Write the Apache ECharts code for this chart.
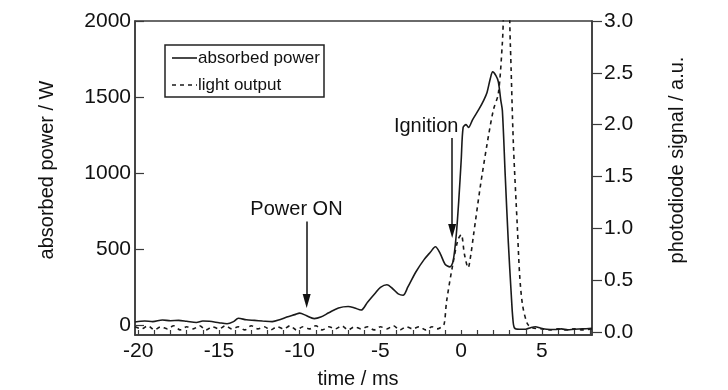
<!DOCTYPE html>
<html><head><meta charset="utf-8">
<script src="https://cdn.jsdelivr.net/npm/echarts@6/dist/echarts.min.js"></script>
<style>html,body{margin:0;padding:0;background:#fff}#c{width:728px;height:390px}</style>
</head><body><div id="c"></div>
<script>
const FONT = '"Liberation Sans",Arial,sans-serif';
// time (ms)
const xTicks = [-20, -15, -10, -5, 0, 5];
const xMinorTicks = [-20,-19,-18,-17,-16,-15,-14,-13,-12,-11,-10,-9,-8,-7,-6,-5,-4,-3,-2,-1,0,1,2,3,4,5,6,7,8];
const leftTicks = [0, 500, 1000, 1500, 2000];
const rightTicks = [0, 0.5, 1.0, 1.5, 2.0, 2.5, 3.0];

// absorbed power [time ms, W]
const powerT = [-20.2,-19.6,-19.1,-18.5,-18.0,-17.5,-17.0,-16.4,-16.0,-15.6,-15.0,-14.5,-14.1,-13.8,-13.3,-12.8,-12.3,-11.7,-11.2,-10.8,-10.3,-10.0,-9.6,-9.1,-8.7,-8.2,-7.6,-7.0,-6.6,-6.2,-5.8,-5.3,-5.0,-4.6,-4.2,-3.9,-3.6,-3.3,-2.8,-2.3,-1.9,-1.6,-1.3,-1.0,-0.7,-0.5,-0.3,-0.15,0.0,0.12,0.3,0.45,0.7,1.1,1.4,1.6,1.8,1.95,2.15,2.3,2.45,2.55,2.73,2.92,3.1,3.2,3.3,3.6,4.0,4.3,4.6,4.9,5.3,5.8,6.2,6.6,7.0,7.5,8.1];
const powerW = [20,26,22,33,28,30,24,16,26,24,15,8,22,44,34,30,26,22,36,52,68,78,62,42,52,80,112,122,112,98,150,212,248,265,235,205,196,250,350,430,480,515,470,400,382,420,600,820,1085,1300,1318,1300,1350,1420,1480,1530,1620,1665,1640,1600,1480,1410,975,540,200,40,-20,-28,-28,-18,-12,-20,-28,-30,-26,-32,-28,-26,-22];

// light output [time ms, a.u.]
const lightT = [-20.2,-19.8,-19.4,-19.0,-18.6,-18.2,-17.8,-17.4,-17.0,-16.6,-16.2,-15.8,-15.4,-15.0,-14.6,-14.2,-13.8,-13.4,-13.0,-12.6,-12.2,-11.8,-11.4,-11.0,-10.6,-10.2,-9.8,-9.4,-9.0,-8.6,-8.2,-7.8,-7.4,-7.0,-6.6,-6.2,-5.8,-5.4,-5.0,-4.6,-4.2,-3.8,-3.4,-3.0,-2.6,-2.2,-1.8,-1.5,-1.2,-1.05,-0.9,-0.5,-0.2,0.0,0.2,0.43,0.6,0.75,1.18,1.61,1.99,2.3,2.55,2.73,2.9,3.04,3.23,3.48,3.62,3.8,4.1,4.4,5.0,5.5,6.0,6.5,7.0,7.5,8.1];
const lightL = [0.05,0.03,0.06,0.02,0.05,0.03,0.06,0.02,0.05,0.03,0.06,0.02,0.05,0.03,0.06,0.03,0.05,0.02,0.06,0.03,0.05,0.02,0.05,0.03,0.06,0.02,0.05,0.03,0.06,0.02,0.05,0.03,0.06,0.02,0.05,0.03,0.05,0.02,0.05,0.03,0.06,0.02,0.05,0.03,0.05,0.02,0.05,0.03,0.05,0.08,0.3,0.67,0.89,0.94,0.75,0.62,0.75,0.92,1.40,1.82,2.14,2.30,2.79,3.3,3.3,2.79,1.82,1.0,0.55,0.26,0.08,0.04,0.03,0.02,0.03,0.02,0.03,0.02,0.03];

// annotations
const powerOnArrow = [[-9.57, 680], [-9.57, 158]];
const ignitionArrow = [[-0.56, 1230], [-0.56, 618]];
const powerOnLabel = [-10.2, 757];
const ignitionLabel = [-2.17, 1303];
const legendNames = ['absorbed power', 'light output'];

const zip = (a, b) => a.map((v, i) => [v, b[i]]);

const chart = echarts.init(document.getElementById('c'), null, {renderer: 'canvas'});
const axisCol = '#3a3a3a';
const lineCol = '#1a1a1a';
chart.setOption({
  animation: false,
  backgroundColor: '#fff',
  grid: {left: 135, right: 136, top: 21, bottom: 55, show: true, borderColor: axisCol, borderWidth: 1.5, backgroundColor: 'transparent'},
  xAxis: {
    type: 'value', min: -20.2, max: 8.1,
    axisLine: {onZero: false, lineStyle: {color: axisCol, width: 1.5}},
    axisTick: {inside: true, length: 5, customValues: xMinorTicks, lineStyle: {color: axisCol, width: 1.2}},
    axisLabel: {customValues: xTicks, margin: 6, color: '#111', fontFamily: FONT, fontSize: 21, formatter: v => String(v)},
    splitLine: {show: false}
  },
  yAxis: [{
    type: 'value', min: -66, max: 2000, position: 'left',
    axisLine: {show: true, onZero: false, lineStyle: {color: axisCol, width: 1.5}},
    axisTick: {show: true, inside: true, length: 9, customValues: leftTicks, lineStyle: {color: axisCol, width: 1.2}},
    axisLabel: {customValues: leftTicks, margin: 4, color: '#111', fontFamily: FONT, fontSize: 21, formatter: v => String(v)},
    splitLine: {show: false}
  }, {
    type: 'value', min: -0.029, max: 3.0, position: 'right',
    axisLine: {show: true, onZero: false, lineStyle: {color: axisCol, width: 1.5}},
    axisTick: {show: true, inside: false, length: 10, customValues: rightTicks, lineStyle: {color: axisCol, width: 1.2}},
    axisLabel: {customValues: rightTicks, margin: 12, color: '#111', fontFamily: FONT, fontSize: 21, formatter: v => v.toFixed(1)},
    splitLine: {show: false}
  }],
  series: [{
    name: legendNames[0], type: 'line', yAxisIndex: 0, data: zip(powerT, powerW),
    smooth: 0.3, symbol: 'none', clip: true,
    lineStyle: {color: lineCol, width: 1.6}, itemStyle: {color: lineCol},
    markLine: {
      silent: true, symbol: ['none', 'triangle'], symbolSize: [8, 14], animation: false,
      lineStyle: {color: '#111', width: 1.5, type: 'solid'}, label: {show: false},
      data: [
        [{coord: powerOnArrow[0]}, {coord: powerOnArrow[1]}],
        [{coord: ignitionArrow[0]}, {coord: ignitionArrow[1]}]
      ]
    },
    markPoint: {
      silent: true, symbol: 'circle', symbolSize: 1, itemStyle: {color: 'rgba(0,0,0,0)'},
      label: {show: true, position: 'inside', formatter: p => p.name, color: '#111', fontFamily: FONT, fontSize: 20},
      data: [{name: 'Power ON', coord: powerOnLabel}, {name: 'Ignition', coord: ignitionLabel}]
    }
  }, {
    name: legendNames[1], type: 'line', yAxisIndex: 1, data: zip(lightT, lightL),
    smooth: 0.3, symbol: 'none', clip: true,
    lineStyle: {color: lineCol, width: 1.6, type: [4, 4]}, itemStyle: {color: lineCol}
  }],
  graphic: [
    {type: 'text', x: 47, y: 170, rotation: Math.PI / 2, style: {text: 'absorbed power / W', fontFamily: FONT, fontSize: 20, fill: '#111', align: 'center', verticalAlign: 'middle'}},
    {type: 'text', x: 677, y: 160, rotation: Math.PI / 2, style: {text: 'photodiode signal / a.u.', fontFamily: FONT, fontSize: 20, fill: '#111', align: 'center', verticalAlign: 'middle'}},
    {type: 'text', x: 358, y: 379, style: {text: 'time / ms', fontFamily: FONT, fontSize: 20, fill: '#111', align: 'center', verticalAlign: 'middle'}},
    {type: 'rect', shape: {x: 165, y: 45, width: 159, height: 52}, style: {fill: '#fff', stroke: '#222', lineWidth: 1.5}, z: 10},
    {type: 'line', shape: {x1: 172, y1: 58, x2: 197, y2: 58}, style: {stroke: lineCol, lineWidth: 1.6}, z: 11},
    {type: 'line', shape: {x1: 172, y1: 85, x2: 197, y2: 85}, style: {stroke: lineCol, lineWidth: 1.6, lineDash: [4, 4]}, z: 11},
    {type: 'text', x: 198, y: 58, style: {text: legendNames[0], fontFamily: FONT, fontSize: 17, fill: '#111', verticalAlign: 'middle'}, z: 11},
    {type: 'text', x: 198, y: 85, style: {text: legendNames[1], fontFamily: FONT, fontSize: 17, fill: '#111', verticalAlign: 'middle'}, z: 11}
  ]
});
</script></body></html>
